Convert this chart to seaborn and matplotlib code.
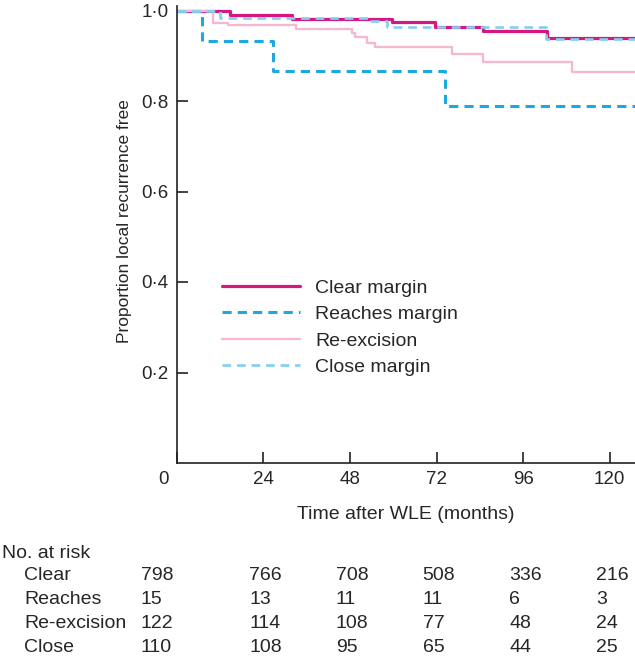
import matplotlib
matplotlib.use("Agg")
import matplotlib.pyplot as plt
import matplotlib.transforms as mtransforms
import seaborn as sns
import pandas as pd

# Kaplan-Meier steps (time in months, proportion free)
clear_t = [0, 14.8, 32, 59.6, 71.7, 85, 102.5]
clear_s = [1.0, 0.990, 0.981, 0.974, 0.964, 0.955, 0.940]
reaches_t = [0, 7.1, 26.6, 74.2]
reaches_s = [1.0, 0.933, 0.867, 0.788]
reex_t = [0, 9.9, 14.3, 33, 48.5, 49.5, 52.7, 55, 76.3, 84.9, 109.6]
reex_s = [1.0, 0.973, 0.968, 0.960, 0.950, 0.941, 0.929, 0.920, 0.903, 0.887, 0.864]
close_t = [0, 12, 53.6, 58.2, 102.2]
close_s = [1.0, 0.983, 0.976, 0.964, 0.936]
follow_up_end = 127

legend_labels = ["Clear margin", "Reaches margin", "Re-excision", "Close margin"]
risk_names = ["Clear", "Reaches", "Re-excision", "Close"]
risk_times = [0, 24, 48, 72, 96, 120]
risk_clear = [798, 766, 708, 508, 336, 216]
risk_reaches = [15, 13, 11, 11, 6, 3]
risk_reex = [122, 114, 108, 77, 48, 24]
risk_close = [110, 108, 95, 65, 44, 25]

sns.set_style("ticks")
plt.rcParams["font.family"] = ["Liberation Sans", "DejaVu Sans"]

W, H = 635, 659
fig = plt.figure(figsize=(W / 100, H / 100), dpi=100)
ax = fig.add_axes([176.8 / W, 1 - 463 / H, 1 - 176.8 / W, 1.01 * 452.5 / H])

groups = [
    (clear_t, clear_s, "#d6177f", "-", 2.3),
    (reaches_t, reaches_s, "#1ea8e0", (0, (3, 2)), 2.2),
    (reex_t, reex_s, "#f5b7d1", "-", 1.7),
    (close_t, close_s, "#82cff2", (0, (3.3, 2.2)), 1.9),
]
for (t, s, col, ls, lw), lab in zip(groups, legend_labels):
    d = pd.DataFrame({"time": t + [follow_up_end], "surv": s + [s[-1]]})
    sns.lineplot(data=d, x="time", y="surv", ax=ax, color=col, linestyle=ls,
                 lw=lw, drawstyle="steps-post", estimator=None, label=lab)

ax.set_xlim(0, follow_up_end)
ax.set_ylim(0, 1.01)
sns.despine(ax=ax)
for sp in ["left", "bottom"]:
    ax.spines[sp].set_linewidth(1.2)
    ax.spines[sp].set_color("#222222")

ax.set_xticks(risk_times)
ax.set_xticklabels([""] + [str(v) for v in risk_times[1:]])
yt = [0.2, 0.4, 0.6, 0.8, 1.0]
ax.set_yticks(yt)
ax.set_yticklabels([f"{v:.1f}".replace(".", "\u00b7") for v in yt])
ax.tick_params(direction="in", length=8, width=1.2, labelsize=13.5, color="#222222")
ax.tick_params(axis="x", pad=6)
ax.tick_params(axis="y", pad=6)
ax.annotate("0", xy=(0, 0), xycoords="data", xytext=(-9.5, -6),
            textcoords="offset points", ha="center", va="top", fontsize=13.5)

ax.set_xlabel("Time after WLE (months)", fontsize=14, labelpad=13)
ax.set_ylabel("Proportion local recurrence free", fontsize=12.5)
ax.yaxis.set_label_coords(-0.098, 0.53)

ax.legend(loc="upper left", bbox_to_anchor=(0.0987, 0.402), frameon=False,
          fontsize=14, borderaxespad=0, borderpad=0, handlelength=4.0,
          handletextpad=0.8, labelspacing=0.45)

# number at risk table
fig.text(2 / W, 1 - 553 / H, "No. at risk", fontsize=14, ha="left", va="center")
row_y = [575, 599, 623, 648]
rows = [risk_clear, risk_reaches, risk_reex, risk_close]
blend = mtransforms.blended_transform_factory(ax.transData, fig.transFigure)
for name, vals, py in zip(risk_names, rows, row_y):
    fig.text(24 / W, 1 - py / H, name, fontsize=14, ha="left", va="center")
    for i, (tm, v) in enumerate(zip(risk_times, vals)):
        shift = -36 if i == 0 else -14
        tr = blend + mtransforms.ScaledTranslation(shift / 100, 0, fig.dpi_scale_trans)
        fig.text(tm, 1 - py / H, str(v), fontsize=14, ha="left", va="center",
                 transform=tr)

fig.savefig("out.png", dpi=100)
